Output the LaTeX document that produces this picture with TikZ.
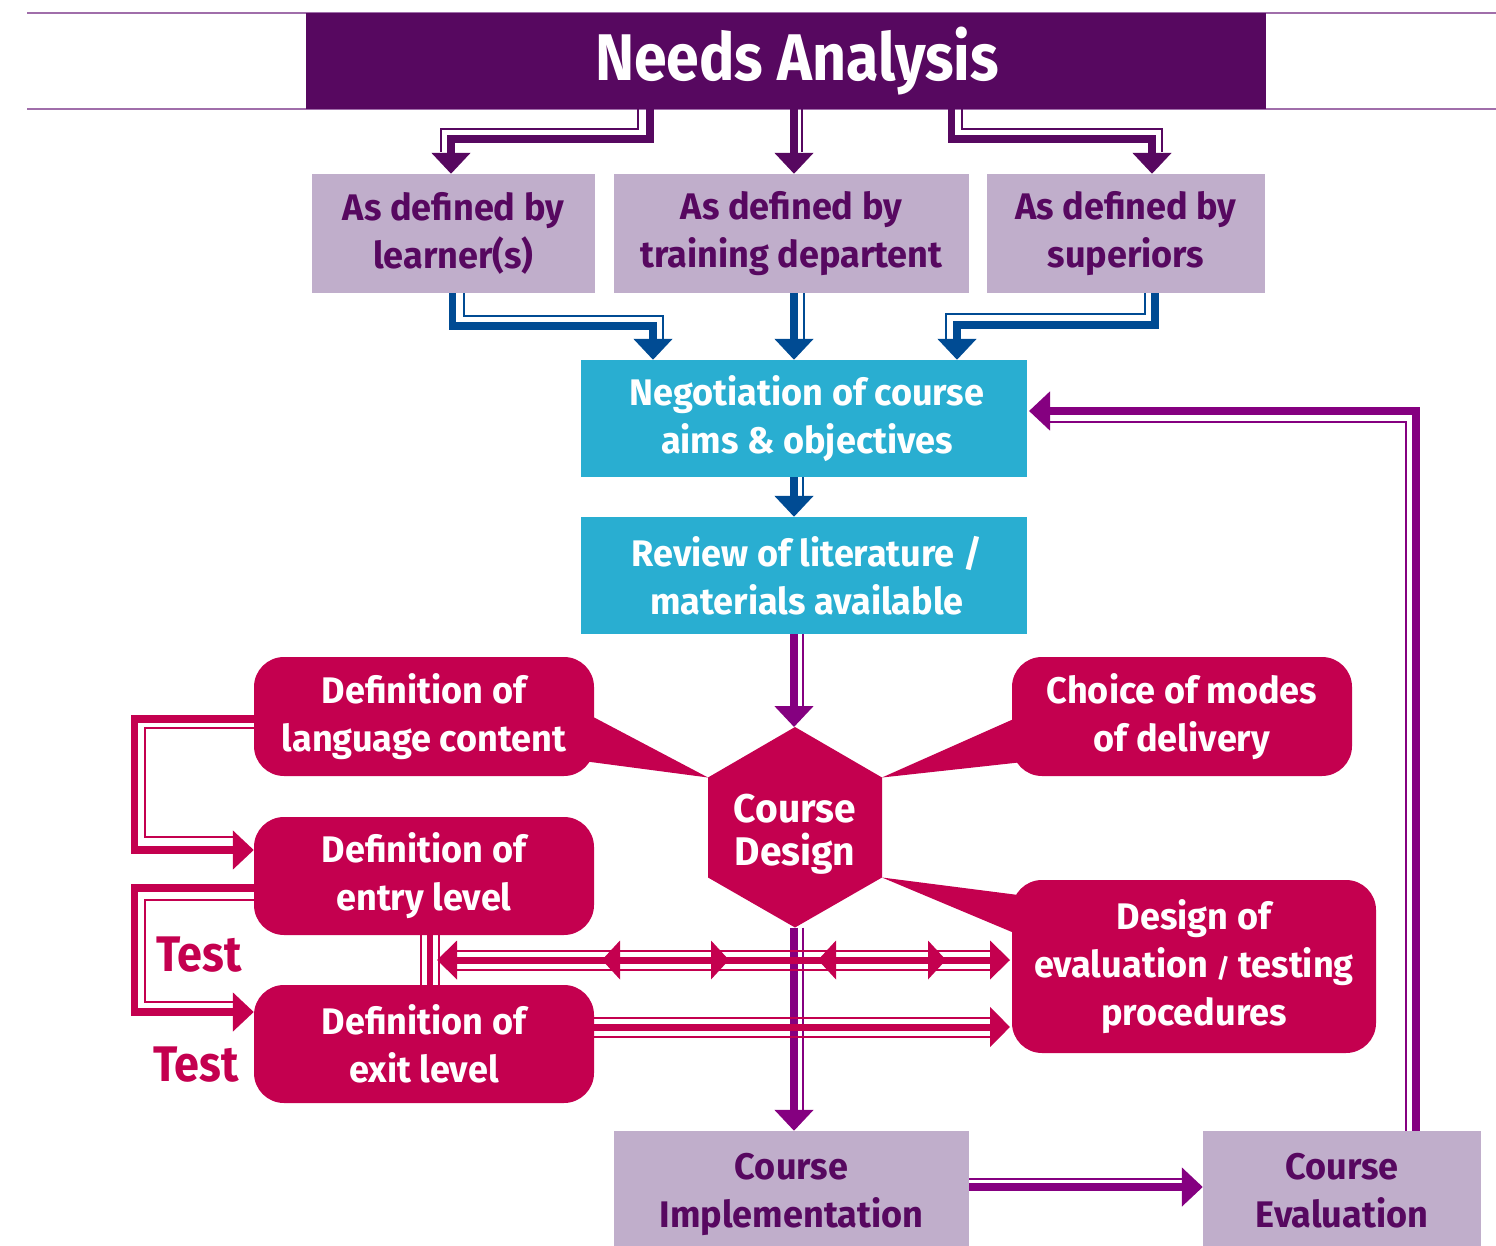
\documentclass[tikz,border=0pt]{standalone}
\usepackage{fontspec}
\setmainfont{Fira Sans}[FakeStretch=0.975]
\newfontfamily\titleff{Fira Sans}[FakeStretch=0.895]
\newfontfamily\testff{Fira Sans}[FakeStretch=0.9]
\usetikzlibrary{arrows.meta,calc}
\definecolor{dpurple}{RGB}{87,8,96}
\definecolor{lav}{RGB}{192,174,203}
\definecolor{cyanbox}{RGB}{41,174,209}
\definecolor{darrowblue}{RGB}{0,75,147}
\definecolor{crim}{RGB}{196,0,79}
\definecolor{parrow}{RGB}{133,0,128}
\definecolor{hline}{RGB}{160,110,170}
\newcommand\mybody{\fontsize{37}{48}\selectfont\bfseries}
\begin{document}
\begin{tikzpicture}[x=1pt,y=-1pt,
  boxbase/.style={inner sep=0pt, align=center, font=\mybody},
  lavbox/.style={boxbase, fill=lav, text=dpurple},
  cyanb/.style={boxbase, fill=cyanbox, text=white},
  redbox/.style={boxbase, fill=crim, text=white, rounded corners=30pt},
  testlbl/.style={text=crim, font=\testff\fontsize{50}{50}\selectfont\bfseries, inner sep=0pt},
  tk/.style={line width=7.5pt, draw=#1},
  tn/.style={line width=2pt, draw=#1},
  tipa/.style={-{Triangle[width=38pt,length=21pt]}},
]
\useasboundingbox (0,0) rectangle (1496,1246);

% header
\draw[hline, line width=2pt] (27,13) -- (1496,13);
\draw[hline, line width=2pt] (27,109.5) -- (1496,109.5);
\node[boxbase, fill=dpurple, text=white, minimum width=960pt, minimum height=96pt,
      font=\titleff\fontsize{66}{70}\selectfont\bfseries] (na) at (786,61) {\hspace*{22pt}Needs Analysis};

% second row
\node[lavbox, minimum width=283pt, minimum height=119pt] (l1) at (453.5,233.5) {As defined by\\learner(s)};
\node[lavbox, minimum width=355pt, minimum height=119pt] (l2) at (791.5,233.5) {As defined by\\training departent};
\node[lavbox, minimum width=278pt, minimum height=119pt] (l3) at (1126,233.5) {As defined by\\superiors};

\node[cyanb, minimum width=446pt, minimum height=117pt] (neg) at (804,418.5) {\hspace*{6pt}Negotiation of course\\\hspace*{6pt}aims \& objectives};
\node[cyanb, minimum width=446pt, minimum height=117pt] (rev) at (804,575.5) {\hspace*{6pt}Review of literature /\\\hspace*{6pt}materials available};

% red boxes
\node[redbox, minimum width=340pt, minimum height=119pt] (d1) at (424,716.5) {Definition of\\language content};
\node[redbox, minimum width=340pt, minimum height=118pt] (d2) at (424,876) {Definition of\\entry level};
\node[redbox, minimum width=340pt, minimum height=118pt] (d3) at (424,1044) {Definition of\\exit level};
\node[redbox, minimum width=340pt, minimum height=119pt] (c1) at (1182,716.5) {Choice of modes\\of delivery};
\node[redbox, minimum width=364pt, minimum height=173pt] (ev) at (1194,966.5) {Design of\\evaluation {\fontsize{26}{26}\selectfont/} testing\\procedures};

% hexagon
\coordinate (hxt) at (795,727);
\coordinate (hxb) at (795,927.5);
\coordinate (hxul) at (708,777.5);
\coordinate (hxur) at (882,777.5);
\coordinate (hxll) at (708,877.5);
\coordinate (hxlr) at (882,877.5);
\fill[crim] (hxt) -- (hxur) -- (hxlr) -- (hxb) -- (hxll) -- (hxul) -- cycle;
\node[boxbase, text=white, font=\fontsize{40}{43}\selectfont\bfseries] (cd) at (795,834) {Course\\Design};

% wedges
\fill[crim] (580,710) -- (hxul) -- (580,760.6) -- cycle;
\fill[crim] (1025,714) -- (hxur) -- (1025,761.8) -- cycle;
\fill[crim] (1030,896.5) -- (hxlr) -- (1030,939.6) -- cycle;

% bottom boxes
\node[lavbox, minimum width=355pt, minimum height=115pt] (impl) at (791.5,1188.5) {};
\node[boxbase, text=dpurple] (impltx) at (791.5,1194) {Course\\Implementation};
\node[lavbox, minimum width=278pt, minimum height=115pt] (eval) at (1342,1188.5) {};
\node[boxbase, text=dpurple] (evaltx) at (1342,1190.5) {Course\\Evaluation};

% Test labels
\node[testlbl] (t1) at (199,955) {Test};
\node[testlbl] (t2) at (196,1065) {Test};

% ---- Needs analysis arrows
\draw[tk=dpurple, tipa] (650,0 |- na.south) |- (451,139) -- (451,0 |- l1.north);
\draw[tn=dpurple] (638,0 |- na.south) |- (441,129) -- (441,152);
\draw[tk=dpurple, tipa] (794,0 |- na.south) -- (794,0 |- l2.north);
\draw[tn=dpurple] (802,0 |- na.south) -- (802,152);
\draw[tk=dpurple, tipa] (951.5,0 |- na.south) |- (1152,139) -- (1152,0 |- l3.north);
\draw[tn=dpurple] (962,0 |- na.south) |- (1162,129) -- (1162,152);

% ---- blue arrows
\draw[tk=darrowblue, tipa] (452.5,0 |- l1.south) |- (653,326) -- (653,0 |- neg.north);
\draw[tn=darrowblue] (464,0 |- l1.south) |- (663,316) -- (663,339);
\draw[tk=darrowblue, tipa] (794,0 |- l2.south) -- (794,0 |- neg.north);
\draw[tn=darrowblue] (803.5,0 |- l2.south) -- (803.5,339);
\draw[tk=darrowblue, tipa] (1155,0 |- l3.south) |- (957,325) -- (957,0 |- neg.north);
\draw[tn=darrowblue] (1145,0 |- l3.south) |- (946,314) -- (946,339);
\draw[tk=darrowblue, tipa] (794,0 |- neg.south) -- (794,0 |- rev.north);
\draw[tn=darrowblue] (803,0 |- neg.south) -- (803,496);

% ---- purple arrows
\draw[tk=parrow, tipa] (794,0 |- rev.south) -- (794,0 |- hxt);
\draw[tn=parrow] (803,0 |- rev.south) -- (803,706);
\draw[tk=parrow, tipa] (794,0 |- hxb) -- (794,0 |- impl.north);
\draw[tn=parrow] (803,0 |- hxb) -- (803,1110);
\draw[tk=parrow, tipa] (impl.east |- 0,1187) -- (eval.west |- 0,1187);
\draw[tn=parrow] (impl.east |- 0,1178.5) -- (1182,1178.5);
\draw[tk=parrow, tipa] (1416,0 |- eval.north) |- (1029,411);
\draw[tn=parrow] (1406,0 |- eval.north) |- (1050,421.5);

% ---- left loops
\draw[tk=crim, tipa] (d1.west |- 0,719) -| (134.5,850) -- (d2.west |- 0,850);
\draw[tn=crim] (d1.west |- 0,728) -| (144.5,837) -- (234,837);
\draw[tk=crim, tipa] (d2.west |- 0,888) -| (134.5,1012) -- (d3.west |- 0,1012);
\draw[tn=crim] (d2.west |- 0,900) -| (144.5,1002) -- (234,1002);

% entry -> exit link
\draw[line width=6pt, draw=crim] (430,0 |- d2.south) -- (430,0 |- d3.north);
\draw[tn=crim] (421,0 |- d2.south) -- (421,0 |- d3.north);
\draw[tn=crim] (439,0 |- d2.south) -- (439,0 |- d3.north);

% ---- red rows to evaluation
\draw[line width=7pt, draw=crim] (450,960) -- (995,960);
\draw[tn=crim] (456,950.5) -- (990,950.5);
\draw[tn=crim] (456,969.5) -- (990,969.5);
\fill[crim] (437,960) -- (457,940.5) -- (457,979.5) -- cycle;
\fill[crim] (602,960) -- (620,940.5) -- (620,979.5) -- cycle;
\fill[crim] (729,960) -- (711,940.5) -- (711,979.5) -- cycle;
\fill[crim] (818,960) -- (836,940.5) -- (836,979.5) -- cycle;
\fill[crim] (946,960) -- (928,940.5) -- (928,979.5) -- cycle;
\fill[crim] (1010,960) -- (990,940.5) -- (990,979.5) -- cycle;

\draw[line width=7pt, draw=crim, -{Triangle[width=39pt,length=20pt]}] (d3.east |- 0,1027) -- (1010,1027);
\draw[tn=crim] (d3.east |- 0,1017.5) -- (990,1017.5);
\draw[tn=crim] (d3.east |- 0,1036.5) -- (990,1036.5);
\end{tikzpicture}
\end{document}
